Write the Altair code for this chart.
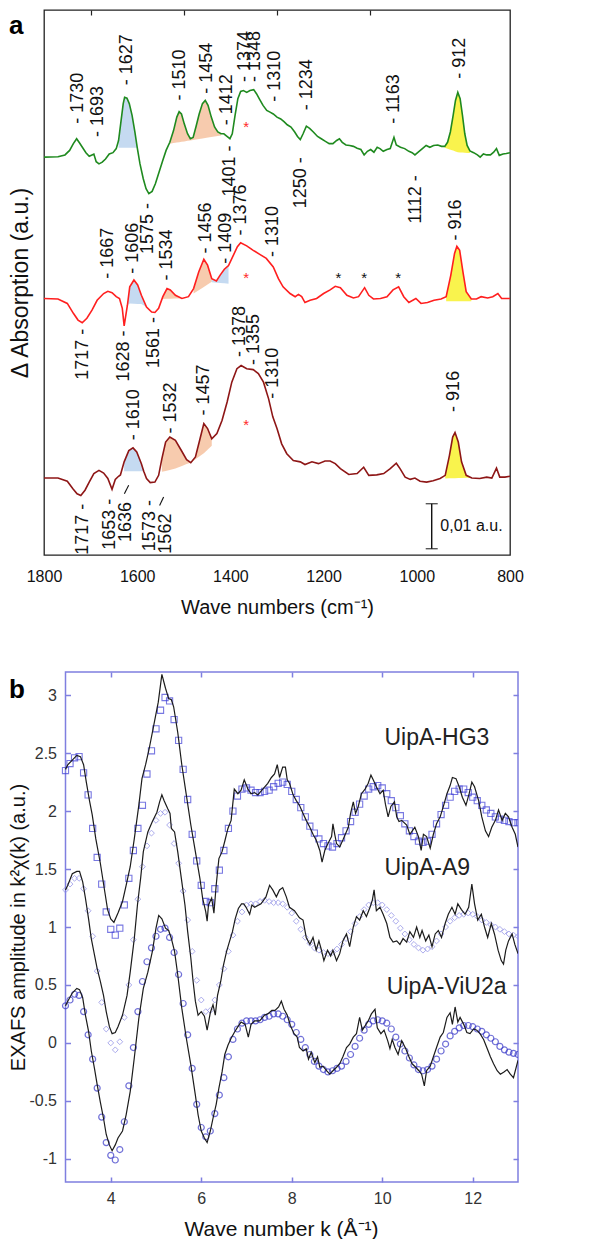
import altair as alt
import pandas as pd
import numpy as np

REG = "Liberation Sans, Arial, Helvetica, sans-serif"

# ------------------------------------------------------------------ panel a data
# (wavenumber cm-1, delta absorption in 0.001 a.u., relative to each trace's baseline)
GREEN_SPECTRUM = [
    (1800, 0), (1770, 0.1), (1755, 0.5), (1745, 1.5), (1737, 3.0), (1730, 4.1), (1724, 3.2), (1717, 2.1),
    (1710, 1.0), (1703, 0.2), (1697, 0.5), (1693, 0.7), (1688, -1.0), (1682, -1.5), (1675, -1.1), (1668, -0.4),
    (1660, 0.7), (1652, 1.0), (1645, 1.9), (1640, 3.7), (1635, 7.8), (1630, 11.9), (1627, 13.3), (1622, 13.1),
    (1617, 11.9), (1611, 9.3), (1605, 5.6), (1600, 2.2), (1594, -1.5), (1587, -4.8), (1581, -7.0), (1575, -8.1),
    (1568, -7.6), (1561, -5.9), (1553, -3.3), (1545, -0.7), (1538, 1.5), (1530, 3.3), (1522, 5.9), (1515, 8.9),
    (1510, 10.1), (1505, 9.6), (1499, 7.4), (1492, 5.2), (1486, 4.1), (1480, 4.4), (1474, 6.7), (1467, 9.6),
    (1460, 11.9), (1454, 12.6), (1448, 11.5), (1441, 8.9), (1434, 6.7), (1427, 5.6), (1420, 5.2), (1414, 5.2),
    (1408, 4.7), (1401, 4.1), (1396, 5.2), (1390, 9.3), (1384, 13.0), (1378, 14.6), (1372, 14.8), (1365, 14.4),
    (1358, 14.8), (1350, 15.0), (1344, 14.1), (1337, 12.8), (1330, 11.5), (1322, 10.4), (1315, 10.0), (1308, 9.6),
    (1300, 8.9), (1292, 8.5), (1285, 7.9), (1278, 7.2), (1270, 6.7), (1262, 5.6), (1256, 4.6), (1250, 3.9),
    (1244, 5.2), (1237, 6.9), (1230, 6.4), (1222, 5.6), (1213, 4.6), (1205, 4.1), (1196, 3.5), (1188, 3.0),
    (1180, 3.0), (1172, 3.7), (1166, 4.1), (1160, 3.3), (1152, 2.7), (1144, 2.6), (1136, 2.4), (1128, 2.0),
    (1120, 1.7), (1113, 0.5), (1106, 1.3), (1099, 1.7), (1092, 1.1), (1085, 2.2), (1079, 1.9), (1072, 1.3),
    (1064, 1.7), (1057, 1.9), (1049, 4.4), (1044, 2.7), (1035, 2.2), (1026, 1.9), (1017, 1.3), (1010, 1.0),
    (1004, 0.5), (997, 1.1), (988, 1.9), (980, 2.6), (972, 2.2), (964, 2.6), (955, 2.7), (947, 2.4),
    (940, 2.4), (934, 3.3), (928, 5.6), (922, 9.3), (917, 12.6), (912, 14.4), (907, 13.0), (902, 9.3),
    (897, 5.2), (892, 2.6), (886, 1.4), (878, 1.0), (870, 0.5), (864, 0.0), (857, 0.7), (850, 0.5),
    (842, 0.5), (835, 1.1), (829, 1.9), (823, 0.4), (815, 0.7), (808, 0.8), (800, 1.0),
]
RED_SPECTRUM = [
    (1800, 0), (1770, -0.1), (1750, -1.1), (1737, -3.3), (1727, -4.8), (1718, -5.4), (1708, -4.4), (1697, -2.6),
    (1686, -0.4), (1672, 1.1), (1663, 1.6), (1654, 1.3), (1645, 0.4), (1638, 0.0), (1632, -2.2), (1628, -6.1),
    (1621, -1.5), (1616, 2.6), (1607, 4.1), (1599, 3.0), (1591, 0.7), (1580, -1.9), (1569, -3.0), (1562, -3.1),
    (1554, -2.2), (1545, 0.4), (1536, 2.2), (1529, 1.9), (1518, 0.7), (1504, 0.0), (1490, 0.4), (1479, 2.2),
    (1468, 5.9), (1457, 8.7), (1449, 7.4), (1440, 4.4), (1430, 3.9), (1422, 5.2), (1413, 6.5), (1404, 7.3),
    (1395, 9.3), (1385, 11.5), (1378, 12.4), (1365, 11.7), (1351, 10.7), (1337, 9.8), (1323, 8.9), (1308, 7.0),
    (1297, 4.4), (1287, 2.6), (1272, 1.1), (1261, 0.4), (1254, 0.9), (1247, 0.4), (1240, -0.9), (1229, -0.4),
    (1215, 0.0), (1200, 1.1), (1186, 1.9), (1175, 2.7), (1164, 2.4), (1150, 0.7), (1136, 0.1), (1125, 0.4),
    (1112, 2.4), (1103, 0.7), (1093, -0.1), (1078, 0.0), (1064, 0.4), (1051, 1.9), (1039, 2.6), (1028, 0.4),
    (1017, -0.9), (1002, 0.0), (991, -1.1), (977, -0.9), (963, -0.4), (948, -0.1), (937, 0.4), (927, 5.2),
    (919, 10.0), (914, 11.6), (908, 10.7), (901, 5.9), (894, 1.5), (883, -0.1), (872, -0.1), (862, 0.4),
    (848, 0.1), (837, 0.4), (826, 1.1), (818, 0.0), (808, 0.0), (800, 0.0),
]
DARKRED_SPECTRUM = [
    (1800, 0), (1770, 0), (1750, -0.7), (1738, -2.4), (1729, -3.5), (1721, -3.9), (1712, -2.7), (1703, -0.9),
    (1693, 1.0), (1682, 1.7), (1672, 1.1), (1663, -0.1), (1654, -2.5), (1647, -0.3), (1640, 0.4), (1636, 0.7),
    (1628, 3.6), (1618, 6.1), (1609, 6.7), (1601, 5.8), (1591, 3.2), (1586, 1.5), (1580, -0.1), (1572, -1.0),
    (1562, -0.9), (1554, 0.6), (1547, 4.3), (1539, 8.0), (1530, 9.1), (1518, 8.4), (1504, 5.9), (1494, 4.1),
    (1485, 3.4), (1475, 4.7), (1466, 8.4), (1457, 12.1), (1449, 11.0), (1440, 8.7), (1429, 9.9), (1418, 12.8),
    (1407, 16.9), (1397, 21.3), (1386, 24.3), (1377, 25.0), (1365, 24.3), (1351, 24.1), (1340, 23.2), (1329, 21.3),
    (1318, 17.6), (1309, 13.6), (1300, 11.0), (1290, 7.6), (1279, 5.4), (1265, 3.9), (1250, 3.6), (1240, 3.0),
    (1225, 3.6), (1211, 3.2), (1197, 3.8), (1186, 3.8), (1175, 3.2), (1164, 2.1), (1146, 0.8), (1128, 1.0),
    (1114, 2.4), (1103, 0.6), (1086, 0.7), (1071, 1.0), (1057, 2.1), (1044, 3.3), (1036, 2.1), (1025, 0.2),
    (1014, -0.3), (1004, 0.0), (993, -0.7), (979, -0.9), (965, -0.6), (950, -0.1), (939, 0.6), (930, 5.0),
    (923, 9.1), (918, 10.1), (911, 8.0), (904, 3.6), (894, 0.6), (882, 0.0), (865, -0.1), (850, 0.2),
    (839, 0.0), (829, 2.2), (822, 0.2), (811, 0.2), (800, 0.4),
]
SPECTRA = {"green": GREEN_SPECTRUM, "red": RED_SPECTRUM, "darkred": DARKRED_SPECTRUM}
TRACE_OFFSET = {"green": 88.4, "red": 57.0, "darkred": 17.1}
TRACE_COLOR = {"green": "#1f8a1f", "red": "#ff1f1f", "darkred": "#8e1616"}

SHADE_COLOR = {"blue": "#bfd6ef", "orange": "#f6c5a5", "yellow": "#f8f23a"}
# trace, wn range, baseline points (wn, value), colour
SHADES = [
    ("green", 1600, 1640, [(1600, 2.1), (1640, 2.1)], "blue"),
    ("green", 1420, 1530, [(1420, 4.8), (1530, 3.0)], "orange"),
    ("green", 886, 940, [(886, 0.9), (912, 1.1), (940, 2.1)], "yellow"),
    ("red", 1580, 1621, [(1580, -1.3), (1621, -1.1)], "blue"),
    ("red", 1504, 1548, [(1504, 0.0), (1548, -0.1)], "orange"),
    ("red", 1440, 1479, [(1440, 3.7), (1479, 1.1)], "orange"),
    ("red", 1404, 1440, [(1404, 3.3), (1440, 3.6)], "blue"),
    ("red", 883, 937, [(883, -0.6), (937, -0.6)], "yellow"),
    ("darkred", 1586, 1628, [(1586, 1.5), (1628, 1.5)], "blue"),
    ("darkred", 1440, 1547, [(1436, 7.6), (1458, 5.4), (1483, 3.6), (1515, 2.2), (1550, 1.3)], "orange"),
    ("darkred", 882, 939, [(882, 0.1), (939, -0.1)], "yellow"),
]

# peak labels: text, position (cm-1), anchor height (absolute)
UP_LABELS = [
    ("- 1730", 1727.6, 95.8), ("- 1693", 1684.7, 92.9), ("- 1627", 1621.7, 104.4), ("- 1510", 1507.5, 101.0),
    ("- 1454", 1450.3, 102.5), ("- 1412", 1407.4, 95.5), ("- 1374", 1369.7, 105.1), ("- 1348", 1346.8, 105.1),
    ("- 1310", 1304.0, 100.7), ("- 1234", 1234.7, 98.8), ("- 1163", 1048.9, 95.8), ("- 912", 907.5, 105.8),
    ("- 1667", 1663.3, 61.4), ("- 1606", 1608.9, 62.5), ("- 1534", 1536.0, 61.0), ("- 1456", 1452.4, 67.0),
    ("- 1409", 1408.9, 64.7), ("- 1376", 1377.4, 71.0), ("- 1310", 1309.0, 66.2), ("- 916", 916.7, 69.9),
    ("- 1610", 1607.6, 25.5), ("- 1532", 1527.4, 27.0), ("- 1457", 1456.0, 31.0), ("- 1378", 1379.0, 44.0),
    ("- 1355", 1350.4, 42.2), ("- 1310", 1307.6, 34.7), ("- 916", 920.0, 31.8),
]
DOWN_LABELS = [
    ("1401 -", 1400.3, 91.0), ("1575 -", 1576.0, 78.2), ("1250 -", 1248.0, 88.4), ("1112 -", 1001.8, 84.4),
    ("1717 -", 1716.0, 50.3), ("1628 -", 1627.5, 49.9), ("1561 -", 1563.2, 52.9),
    ("1717 -", 1716.0, 11.4), ("1653 -", 1657.5, 12.5), ("1636", 1623.2, 11.8), ("1573 -", 1573.0, 12.2),
    ("1562", 1538.0, 9.2),
]
LEADER_SLASHES = [(1627.5, 13.6, 1618.3, 15.5), (1551.9, 11.0, 1543.3, 12.9)]
RED_STARS = [(1366, 96.1), (1366, 62.5), (1366, 29.7)]
BLACK_STARS = [(1168, 62.5), (1113, 62.5), (1040, 62.5)]
SCALE_BAR = (968, 1.4, 11.4)          # x, bottom, top (10 units = 0.01 a.u.)
SCALE_TEXT = ("0,01 a.u.", 949.5, 6.4)

# ------------------------------------------------------------------ panel b data
FIT_K = [3.0, 3.1, 3.2, 3.3, 3.4, 3.5, 3.6, 3.7, 3.8, 3.9, 4.0, 4.1, 4.2, 4.3, 4.4, 4.5, 4.6, 4.7, 4.8, 4.9,
         5.0, 5.1, 5.2, 5.3, 5.4, 5.5, 5.6, 5.7, 5.8, 5.9, 6.0, 6.1, 6.2, 6.3, 6.4, 6.5, 6.6, 6.7, 6.8, 6.9,
         7.0, 7.1, 7.2, 7.3, 7.4, 7.5, 7.6, 7.7, 7.8, 7.9, 8.0, 8.1, 8.2, 8.3, 8.4, 8.5, 8.6, 8.7, 8.8, 8.9,
         9.0, 9.1, 9.2, 9.3, 9.4, 9.5, 9.6, 9.7, 9.8, 9.9, 10.0, 10.1, 10.2, 10.3, 10.4, 10.5, 10.6, 10.7,
         10.8, 10.9, 11.0, 11.1, 11.2, 11.3, 11.4, 11.5, 11.6, 11.7, 11.8, 11.9, 12.0, 12.1, 12.2, 12.3,
         12.4, 12.5, 12.6, 12.7, 12.8, 12.9, 13.0]
HG3_FIT = [2.35, 2.41, 2.46, 2.47, 2.33, 2.14, 1.85, 1.60, 1.37, 1.13,
           0.98, 0.93, 0.99, 1.19, 1.42, 1.66, 1.85, 2.05, 2.32, 2.52,
           2.71, 2.87, 2.98, 2.95, 2.79, 2.61, 2.36, 2.10, 1.80, 1.57,
           1.36, 1.22, 1.21, 1.33, 1.49, 1.66, 1.85, 2.00, 2.13, 2.19,
           2.20, 2.18, 2.16, 2.16, 2.17, 2.18, 2.21, 2.24, 2.25, 2.23,
           2.17, 2.10, 2.03, 1.95, 1.87, 1.81, 1.76, 1.72, 1.70, 1.69,
           1.72, 1.77, 1.83, 1.91, 1.99, 2.06, 2.13, 2.19, 2.21, 2.22,
           2.20, 2.15, 2.09, 2.03, 1.96, 1.89, 1.83, 1.78, 1.74, 1.73,
           1.74, 1.80, 1.89, 1.97, 2.05, 2.12, 2.17, 2.19, 2.19, 2.16,
           2.12, 2.09, 2.05, 2.01, 1.98, 1.95, 1.93, 1.92, 1.91, 1.90, 1.90]
A9_FIT = [1.32, 1.37, 1.42, 1.42, 1.33, 1.14, 0.92, 0.62, 0.35, 0.12,
          0.00, -0.06, 0.01, 0.22, 0.50, 0.89, 1.24, 1.52, 1.70, 1.81,
          1.92, 1.98, 1.99, 1.88, 1.72, 1.55, 1.31, 1.06, 0.79, 0.54,
          0.37, 0.27, 0.28, 0.37, 0.50, 0.64, 0.79, 0.93, 1.05, 1.13,
          1.19, 1.20, 1.20, 1.22, 1.23, 1.22, 1.21, 1.21, 1.20, 1.17,
          1.12, 1.05, 0.98, 0.91, 0.86, 0.82, 0.80, 0.78, 0.77, 0.78,
          0.81, 0.85, 0.90, 0.96, 1.03, 1.09, 1.15, 1.19, 1.21, 1.21,
          1.19, 1.15, 1.10, 1.05, 0.99, 0.94, 0.89, 0.85, 0.82, 0.80,
          0.81, 0.83, 0.88, 0.94, 1.00, 1.05, 1.08, 1.10, 1.11, 1.12,
          1.11, 1.09, 1.06, 1.04, 1.02, 1.00, 0.98, 0.96, 0.94, 0.93, 0.92]
VIU_FIT = [0.32, 0.37, 0.42, 0.41, 0.27, 0.07, -0.14, -0.39, -0.64, -0.86,
           -0.97, -1.01, -0.92, -0.68, -0.37, -0.04, 0.27, 0.53, 0.70, 0.82,
           0.92, 0.98, 0.99, 0.91, 0.78, 0.59, 0.34, 0.07, -0.22, -0.53,
           -0.73, -0.81, -0.76, -0.61, -0.45, -0.30, -0.12, 0.03, 0.12, 0.17,
           0.19, 0.19, 0.19, 0.20, 0.22, 0.23, 0.25, 0.25, 0.23, 0.20,
           0.16, 0.09, 0.03, -0.04, -0.10, -0.16, -0.20, -0.23, -0.25, -0.24,
           -0.22, -0.20, -0.16, -0.10, -0.03, 0.04, 0.11, 0.16, 0.19, 0.20,
           0.19, 0.17, 0.12, 0.05, -0.01, -0.07, -0.13, -0.19, -0.23, -0.24,
           -0.23, -0.20, -0.14, -0.07, -0.01, 0.06, 0.10, 0.13, 0.15, 0.15,
           0.14, 0.12, 0.10, 0.07, 0.04, 0.01, -0.03, -0.06, -0.08, -0.09, -0.10]

HG3_DATA = [
    (3.0, 2.36), (3.05, 2.40), (3.15, 2.44), (3.25, 2.48), (3.33, 2.47), (3.40, 2.40), (3.46, 2.25), (3.53, 2.09),
    (3.59, 1.97), (3.67, 1.76), (3.77, 1.55), (3.87, 1.30), (3.93, 1.15), (4.0, 1.07), (4.07, 1.04), (4.16, 1.12),
    (4.26, 1.22), (4.34, 1.36), (4.43, 1.52), (4.52, 1.76), (4.62, 2.05), (4.69, 2.28), (4.77, 2.40), (4.85, 2.54),
    (4.95, 2.74), (5.05, 2.94), (5.13, 3.18), (5.21, 3.06), (5.28, 2.97), (5.34, 2.96), (5.39, 2.90), (5.48, 2.68),
    (5.57, 2.40), (5.67, 2.14), (5.77, 1.88), (5.87, 1.65), (5.97, 1.42), (6.03, 1.25), (6.10, 1.13), (6.13, 1.05),
    (6.16, 1.19), (6.23, 1.25), (6.28, 1.12), (6.33, 1.36), (6.39, 1.59), (6.46, 1.65), (6.52, 1.74), (6.59, 1.85),
    (6.66, 1.92), (6.73, 2.19), (6.81, 2.15), (6.88, 2.18), (6.95, 2.27), (7.03, 2.19), (7.10, 2.15), (7.18, 2.16),
    (7.25, 2.14), (7.36, 2.19), (7.47, 2.24), (7.55, 2.29), (7.62, 2.32), (7.68, 2.40), (7.73, 2.29), (7.80, 2.38),
    (7.86, 2.38), (7.90, 2.27), (7.95, 2.24), (8.03, 2.14), (8.10, 2.09), (8.17, 2.05), (8.25, 1.98), (8.32, 1.92),
    (8.40, 1.86), (8.47, 1.80), (8.54, 1.75), (8.62, 1.66), (8.67, 1.56), (8.73, 1.66), (8.80, 1.72), (8.88, 1.78),
    (8.91, 1.89), (8.95, 1.80), (8.99, 1.72), (9.06, 1.69), (9.13, 1.75), (9.25, 1.86), (9.30, 1.98), (9.36, 2.08),
    (9.41, 1.98), (9.47, 2.04), (9.54, 2.15), (9.62, 2.19), (9.69, 2.24), (9.75, 2.31), (9.80, 2.27), (9.87, 2.21),
    (9.95, 2.15), (10.02, 2.18), (10.07, 2.06), (10.13, 1.95), (10.19, 2.04), (10.27, 2.08), (10.32, 1.95),
    (10.37, 1.91), (10.43, 1.92), (10.54, 1.88), (10.61, 1.80), (10.72, 1.86), (10.80, 1.78), (10.86, 1.66),
    (10.91, 1.80), (10.98, 1.78), (11.06, 1.68), (11.13, 1.80), (11.20, 1.89), (11.28, 1.95), (11.35, 2.04),
    (11.43, 2.15), (11.50, 2.22), (11.55, 2.29), (11.63, 2.28), (11.70, 2.21), (11.77, 2.12), (11.85, 2.05),
    (11.92, 2.15), (11.98, 2.25), (12.04, 2.21), (12.13, 2.09), (12.20, 1.95), (12.28, 1.83), (12.35, 1.78),
    (12.42, 1.86), (12.50, 1.92), (12.57, 2.01), (12.65, 1.92), (12.72, 1.98), (12.79, 1.95), (12.87, 1.86),
    (12.94, 1.80), (13.0, 1.69),
]
A9_DATA = [
    (3.0, 1.32), (3.05, 1.36), (3.15, 1.46), (3.25, 1.48), (3.31, 1.48), (3.38, 1.39), (3.44, 1.25), (3.51, 1.07),
    (3.57, 0.90), (3.64, 0.76), (3.70, 0.64), (3.77, 0.53), (3.84, 0.41), (3.90, 0.27), (3.97, 0.14), (4.03, 0.08),
    (4.10, 0.09), (4.16, 0.14), (4.26, 0.24), (4.36, 0.41), (4.43, 0.61), (4.52, 0.90), (4.59, 1.19), (4.66, 1.42),
    (4.72, 1.65), (4.82, 1.82), (4.92, 1.91), (5.02, 1.99), (5.08, 2.08), (5.13, 2.14), (5.18, 2.09), (5.26, 2.02),
    (5.31, 1.98), (5.34, 1.85), (5.41, 1.82), (5.48, 1.65), (5.56, 1.42), (5.64, 1.19), (5.70, 0.96), (5.77, 0.73),
    (5.82, 0.53), (5.87, 0.36), (5.93, 0.24), (6.0, 0.27), (6.07, 0.23), (6.13, 0.11), (6.20, 0.26), (6.26, 0.33),
    (6.31, 0.24), (6.36, 0.41), (6.43, 0.53), (6.49, 0.67), (6.56, 0.79), (6.62, 0.87), (6.69, 0.96), (6.75, 1.07),
    (6.82, 1.16), (6.89, 1.20), (6.94, 1.20), (6.99, 1.17), (7.07, 1.11), (7.12, 1.19), (7.18, 1.17), (7.32, 1.20),
    (7.43, 1.26), (7.51, 1.36), (7.58, 1.32), (7.66, 1.26), (7.73, 1.32), (7.80, 1.34), (7.88, 1.26), (7.95, 1.17),
    (8.06, 1.14), (8.17, 1.08), (8.25, 1.06), (8.32, 0.91), (8.40, 0.85), (8.47, 0.91), (8.54, 0.80), (8.60, 0.88),
    (8.65, 0.81), (8.71, 0.71), (8.79, 0.80), (8.86, 0.75), (8.91, 0.80), (8.99, 0.71), (9.06, 0.77), (9.13, 0.88),
    (9.21, 0.94), (9.28, 0.83), (9.36, 1.00), (9.43, 1.09), (9.50, 1.06), (9.58, 1.14), (9.65, 1.09), (9.73, 1.17),
    (9.78, 1.23), (9.82, 1.32), (9.87, 1.14), (9.95, 1.17), (10.02, 1.11), (10.10, 1.03), (10.17, 0.91),
    (10.24, 0.87), (10.32, 0.88), (10.39, 0.85), (10.46, 0.90), (10.54, 0.87), (10.61, 0.96), (10.69, 0.91),
    (10.76, 1.00), (10.83, 0.91), (10.88, 0.97), (10.96, 0.88), (11.03, 0.93), (11.10, 0.83), (11.17, 0.94),
    (11.24, 0.97), (11.31, 0.91), (11.39, 1.03), (11.46, 1.11), (11.54, 1.17), (11.61, 1.11), (11.67, 1.20),
    (11.75, 1.15), (11.83, 1.11), (11.91, 1.17), (11.98, 1.37), (12.04, 1.20), (12.11, 1.06), (12.19, 1.11),
    (12.26, 1.00), (12.33, 0.91), (12.41, 1.03), (12.48, 0.94), (12.56, 0.80), (12.63, 0.71), (12.68, 0.68),
    (12.73, 0.80), (12.79, 0.88), (12.87, 0.94), (12.93, 0.85), (13.0, 0.77),
]
VIU_DATA = [
    (3.0, 0.32), (3.05, 0.36), (3.15, 0.43), (3.25, 0.47), (3.31, 0.46), (3.38, 0.39), (3.44, 0.24), (3.51, 0.10),
    (3.57, -0.07), (3.64, -0.22), (3.70, -0.36), (3.77, -0.51), (3.84, -0.65), (3.90, -0.79), (3.97, -0.88),
    (4.03, -0.93), (4.10, -0.88), (4.16, -0.82), (4.26, -0.76), (4.34, -0.62), (4.43, -0.42), (4.52, -0.13),
    (4.62, 0.21), (4.72, 0.47), (4.82, 0.61), (4.92, 0.79), (5.0, 0.99), (5.06, 1.10), (5.13, 1.07), (5.21, 0.99),
    (5.28, 0.97), (5.34, 0.90), (5.41, 0.79), (5.48, 0.59), (5.57, 0.30), (5.67, 0.04), (5.77, -0.19),
    (5.87, -0.45), (5.93, -0.62), (6.0, -0.76), (6.07, -0.82), (6.13, -0.86), (6.20, -0.76), (6.26, -0.65),
    (6.33, -0.53), (6.39, -0.39), (6.46, -0.25), (6.52, -0.10), (6.59, -0.02), (6.66, 0.04), (6.73, 0.09),
    (6.81, 0.14), (6.88, 0.18), (6.97, 0.16), (7.04, 0.05), (7.10, 0.16), (7.18, 0.19), (7.29, 0.19), (7.40, 0.24),
    (7.47, 0.25), (7.56, 0.28), (7.63, 0.28), (7.71, 0.31), (7.77, 0.36), (7.83, 0.29), (7.90, 0.24), (7.97, 0.15),
    (8.05, 0.08), (8.12, 0.05), (8.17, -0.04), (8.25, -0.07), (8.32, -0.05), (8.37, -0.14), (8.43, -0.08),
    (8.51, -0.17), (8.57, -0.12), (8.62, -0.21), (8.69, -0.20), (8.77, -0.24), (8.84, -0.27), (8.91, -0.24),
    (8.99, -0.21), (9.06, -0.18), (9.13, -0.12), (9.21, -0.04), (9.28, -0.01), (9.36, 0.05), (9.43, 0.08),
    (9.50, 0.22), (9.56, 0.11), (9.61, 0.14), (9.69, 0.19), (9.76, 0.25), (9.84, 0.29), (9.89, 0.13), (9.97, 0.08),
    (10.04, 0.11), (10.12, 0.02), (10.17, -0.05), (10.22, 0.03), (10.28, -0.04), (10.35, -0.10), (10.43, 0.02),
    (10.52, -0.05), (10.59, -0.12), (10.66, -0.18), (10.74, -0.21), (10.81, -0.24), (10.87, -0.27),
    (10.93, -0.37), (10.98, -0.24), (11.06, -0.20), (11.13, -0.12), (11.20, -0.04), (11.28, 0.05), (11.35, 0.09),
    (11.43, 0.22), (11.50, 0.26), (11.55, 0.16), (11.61, 0.31), (11.67, 0.18), (11.72, 0.22), (11.80, 0.16),
    (11.87, 0.09), (11.94, 0.08), (12.02, 0.12), (12.09, 0.11), (12.16, 0.08), (12.24, 0.03), (12.31, -0.04),
    (12.39, -0.12), (12.46, -0.18), (12.54, -0.24), (12.61, -0.27), (12.69, -0.25), (12.76, -0.23),
    (12.83, -0.27), (12.90, -0.30), (13.0, -0.15),
]
SAMPLE_LABELS = [("UipA-HG3", 10.05, 2.63), ("UipA-A9", 10.05, 1.505), ("UipA-ViU2a", 10.1, 0.486)]
K_RANGE = (3, 13)
V_RANGE = (-1.2, 3.2)

# ------------------------------------------------------------------ panel a chart
W_A, H_A = 466, 545
XA = alt.Scale(domain=[800, 1800], reverse=True, nice=False, zero=False)
YA = alt.Scale(domain=[0, 121.1], nice=False, zero=False)

ax_a_bottom = alt.Axis(orient="bottom", values=[1800, 1600, 1400, 1200, 1000, 800], format="d", ticks=False,
                       domain=False, grid=False, labelFont=REG, labelFontSize=16, labelColor="#111",
                       labelPadding=13, labelFlush=False, labelOverlap=False,
                       title="Wave numbers (cm⁻¹)", titleFont=REG, titleFontSize=20,
                       titleFontWeight="normal", titleColor="#111", titlePadding=13)
ax_a_top = alt.Axis(orient="top", values=[1700, 1500, 1300, 1100], labels=False, domain=False, grid=False,
                    ticks=True, tickSize=5, offset=-5, tickColor="#222", tickWidth=1.2, title=None)
ax_a_left = alt.Axis(orient="left", labels=False, ticks=False, domain=False, grid=False,
                     title="Δ Absorption (a.u.)", titleFont=REG, titleFontSize=23, titleFontWeight="normal",
                     titleColor="#111", titlePadding=12)


def trace_df(name):
    off = TRACE_OFFSET[name]
    return pd.DataFrame({"wn": [p[0] for p in SPECTRA[name]], "y": [p[1] + off for p in SPECTRA[name]]})


shade_rows = []
for i, (trace, lo, hi, base_pts, kind) in enumerate(SHADES):
    pts = sorted(base_pts)
    bx = [p[0] for p in pts]
    by = [p[1] for p in pts]
    off = TRACE_OFFSET[trace]
    for wn, v in SPECTRA[trace]:
        if lo <= wn <= hi:
            b = float(np.interp(wn, bx, by))
            shade_rows.append({"seg": i, "wn": wn, "top": v + off, "bottom": min(b, v) + off,
                               "fill": SHADE_COLOR[kind]})
shade_df = pd.DataFrame(shade_rows)

shades = alt.Chart(shade_df).mark_area(opacity=0.9, clip=True).encode(
    x=alt.X("wn:Q", scale=XA, axis=None),
    y=alt.Y("top:Q", scale=YA, axis=None),
    y2="bottom:Q",
    color=alt.Color("fill:N", scale=None),
    detail="seg:N",
)

green_line = alt.Chart(trace_df("green")).mark_line(color=TRACE_COLOR["green"], strokeWidth=1.6, clip=True).encode(
    x=alt.X("wn:Q", scale=XA, axis=ax_a_bottom), y=alt.Y("y:Q", scale=YA, axis=ax_a_left))
red_line = alt.Chart(trace_df("red")).mark_line(color=TRACE_COLOR["red"], strokeWidth=1.6, clip=True).encode(
    x=alt.X("wn:Q", scale=XA, axis=ax_a_top), y=alt.Y("y:Q", scale=YA, axis=None))
dred_line = alt.Chart(trace_df("darkred")).mark_line(color=TRACE_COLOR["darkred"], strokeWidth=1.6, clip=True).encode(
    x=alt.X("wn:Q", scale=XA, axis=None), y=alt.Y("y:Q", scale=YA, axis=None))

up_df = pd.DataFrame(UP_LABELS, columns=["t", "wn", "y"])
down_df = pd.DataFrame(DOWN_LABELS, columns=["t", "wn", "y"])
up_text = alt.Chart(up_df).mark_text(angle=270, align="left", baseline="middle", font=REG, fontSize=18,
                                     color="#111").encode(
    x=alt.X("wn:Q", scale=XA, axis=None), y=alt.Y("y:Q", scale=YA, axis=None), text="t:N")
down_text = alt.Chart(down_df).mark_text(angle=270, align="right", baseline="middle", font=REG, fontSize=18,
                                         color="#111").encode(
    x=alt.X("wn:Q", scale=XA, axis=None), y=alt.Y("y:Q", scale=YA, axis=None), text="t:N")

slash_df = pd.DataFrame(LEADER_SLASHES, columns=["x1", "y1", "x2", "y2"])
slashes = alt.Chart(slash_df).mark_rule(color="#111", strokeWidth=1.1).encode(
    x=alt.X("x1:Q", scale=XA, axis=None), x2="x2:Q",
    y=alt.Y("y1:Q", scale=YA, axis=None), y2="y2:Q")

red_star_df = pd.DataFrame(RED_STARS, columns=["wn", "y"]).assign(t="*")
black_star_df = pd.DataFrame(BLACK_STARS, columns=["wn", "y"]).assign(t="*")
red_stars = alt.Chart(red_star_df).mark_text(font=REG, fontSize=15, color="#ff2a2a", baseline="middle", dy=4).encode(
    x=alt.X("wn:Q", scale=XA, axis=None), y=alt.Y("y:Q", scale=YA, axis=None), text="t:N")
black_stars = alt.Chart(black_star_df).mark_text(font=REG, fontSize=15, color="#111", baseline="middle", dy=4).encode(
    x=alt.X("wn:Q", scale=XA, axis=None), y=alt.Y("y:Q", scale=YA, axis=None), text="t:N")

bar_df = pd.DataFrame([{"x": SCALE_BAR[0], "y0": SCALE_BAR[1], "y1": SCALE_BAR[2]}])
bar = alt.Chart(bar_df).mark_rule(color="#111", strokeWidth=1.4).encode(
    x=alt.X("x:Q", scale=XA, axis=None), y=alt.Y("y0:Q", scale=YA, axis=None), y2="y1:Q")
cap_df = pd.DataFrame({"x": [SCALE_BAR[0], SCALE_BAR[0]], "y": [SCALE_BAR[1], SCALE_BAR[2]]})
caps = alt.Chart(cap_df).mark_tick(orient="horizontal", size=12, thickness=1.4, color="#111").encode(
    x=alt.X("x:Q", scale=XA, axis=None), y=alt.Y("y:Q", scale=YA, axis=None))
bar_text = alt.Chart(pd.DataFrame([{"t": SCALE_TEXT[0], "x": SCALE_TEXT[1], "y": SCALE_TEXT[2]}])).mark_text(
    align="left", baseline="middle", font=REG, fontSize=16, color="#111").encode(
    x=alt.X("x:Q", scale=XA, axis=None), y=alt.Y("y:Q", scale=YA, axis=None), text="t:N")

a_tag = alt.Chart(pd.DataFrame({"t": ["a"]})).mark_text(
    align="left", baseline="alphabetic", font=REG, fontSize=26, fontWeight="bold", color="#000").encode(
    x=alt.value(-35), y=alt.value(24), text="t:N")

panel_a = alt.layer(
    shades, green_line, red_line, dred_line, up_text, down_text, slashes, red_stars, black_stars,
    bar, caps, bar_text, a_tag,
).resolve_axis(x="independent", y="independent").properties(
    width=W_A, height=H_A, view=alt.ViewBackground(stroke="#222", strokeWidth=1.3))

# ------------------------------------------------------------------ panel b chart
# In a single-column concat both plot areas share their left edge, so panel b's plot area starts
# where panel a's does and its frame (k = 3..13) is drawn inside, 21.5 px to the right.
SHIFT_B = 21.5
W_B, H_B = 474, 510
FRAME_B = "#7f7fe0"
K_LEFT = K_RANGE[0] - SHIFT_B * (K_RANGE[1] - K_RANGE[0]) / (W_B - SHIFT_B)
XB = alt.Scale(domain=[K_LEFT, K_RANGE[1]], nice=False, zero=False)
YB = alt.Scale(domain=list(V_RANGE), nice=False, zero=False)
Y_TICKS = [-1, -0.5, 0, 0.5, 1, 1.5, 2, 2.5, 3]
X_TICKS = [4, 6, 8, 10, 12]

ax_b_bottom = alt.Axis(orient="bottom", values=X_TICKS, format="d", ticks=False, domain=False, grid=False,
                       labelFont=REG, labelFontSize=16, labelColor="#333", labelPadding=8,
                       labelFlush=False, title="Wave number k (Å⁻¹)", titleFont=REG, titleFontSize=21,
                       titleFontWeight="normal", titleColor="#111", titlePadding=12)
ax_b_left = alt.Axis(orient="left", values=Y_TICKS, labelExpr="datum.value + ''", ticks=False, domain=False,
                     grid=False, labelFont=REG, labelFontSize=16, labelColor="#333", labelPadding=9,
                     labelFlush=False, labelOverlap=False, offset=-SHIFT_B,
                     title="EXAFS amplitude in k²χ(k) (a.u.)", titleFont=REG, titleFontSize=20,
                     titleFontWeight="normal", titleColor="#111", titlePadding=0)
ax_b_bottom_ticks = alt.Axis(orient="bottom", values=X_TICKS, labels=False, domain=False, grid=False,
                             tickSize=5, offset=-5, tickColor=FRAME_B, tickWidth=1.5, title=None)
ax_b_top_ticks = alt.Axis(orient="top", values=X_TICKS, labels=False, domain=False, grid=False,
                          tickSize=5, offset=-5, tickColor=FRAME_B, tickWidth=1.5, title=None)
ax_b_left_ticks = alt.Axis(orient="left", values=Y_TICKS, labels=False, domain=False, grid=False,
                           tickSize=5, offset=-(SHIFT_B + 5), tickColor=FRAME_B, tickWidth=1.5, title=None)
ax_b_right_ticks = alt.Axis(orient="right", values=Y_TICKS, labels=False, domain=False, grid=False,
                            tickSize=5, offset=-5, tickColor=FRAME_B, tickWidth=1.5, title=None)

fit_df = pd.DataFrame({"k": FIT_K, "hg3": HG3_FIT, "a9": A9_FIT, "viu": VIU_FIT})

frame_b = alt.Chart(pd.DataFrame([{"k0": K_RANGE[0], "k1": K_RANGE[1], "v0": V_RANGE[0], "v1": V_RANGE[1]}])).mark_rect(
    fill="transparent", stroke=FRAME_B, strokeWidth=1.5).encode(
    x=alt.X("k0:Q", scale=XB, axis=None), x2="k1:Q", y=alt.Y("v0:Q", scale=YB, axis=None), y2="v1:Q")

squares = alt.Chart(fit_df).mark_point(shape="square", filled=False, size=38, strokeWidth=1.1,
                                       color="#4040d6", clip=True).encode(
    x=alt.X("k:Q", scale=XB, axis=ax_b_bottom), y=alt.Y("hg3:Q", scale=YB, axis=ax_b_left))
diamonds = alt.Chart(fit_df).mark_point(shape="diamond", filled=False, size=34, strokeWidth=1.0,
                                        color="#8a8ae6", clip=True).encode(
    x=alt.X("k:Q", scale=XB, axis=ax_b_bottom_ticks), y=alt.Y("a9:Q", scale=YB, axis=ax_b_left_ticks))
circles = alt.Chart(fit_df).mark_point(shape="circle", filled=False, size=36, strokeWidth=1.2,
                                       color="#3636c8", clip=True).encode(
    x=alt.X("k:Q", scale=XB, axis=ax_b_top_ticks), y=alt.Y("viu:Q", scale=YB, axis=ax_b_right_ticks))


def data_line(points):
    df = pd.DataFrame(points, columns=["k", "v"])
    return alt.Chart(df).mark_line(color="#1c1c1c", strokeWidth=1.2, clip=True).encode(
        x=alt.X("k:Q", scale=XB, axis=None), y=alt.Y("v:Q", scale=YB, axis=None))


sample_text = alt.Chart(pd.DataFrame(SAMPLE_LABELS, columns=["t", "k", "v"])).mark_text(
    align="left", baseline="middle", font=REG, fontSize=23, color="#222").encode(
    x=alt.X("k:Q", scale=XB, axis=None), y=alt.Y("v:Q", scale=YB, axis=None), text="t:N")

b_tag = alt.Chart(pd.DataFrame({"t": ["b"]})).mark_text(
    align="left", baseline="alphabetic", font=REG, fontSize=26, fontWeight="bold", color="#000").encode(
    x=alt.value(-35), y=alt.value(26), text="t:N")

panel_b = alt.layer(
    frame_b, squares, diamonds, circles, data_line(HG3_DATA), data_line(A9_DATA), data_line(VIU_DATA),
    sample_text, b_tag,
).resolve_axis(x="independent", y="independent").properties(
    width=W_B, height=H_B, view=alt.ViewBackground(stroke="transparent", strokeWidth=0))

chart = alt.ConcatChart(concat=[panel_a, panel_b], columns=1, spacing=53,
                        bounds="full").properties(padding=0, background="white")

chart.save("out.html", embed_options={"renderer": "svg", "actions": False})
